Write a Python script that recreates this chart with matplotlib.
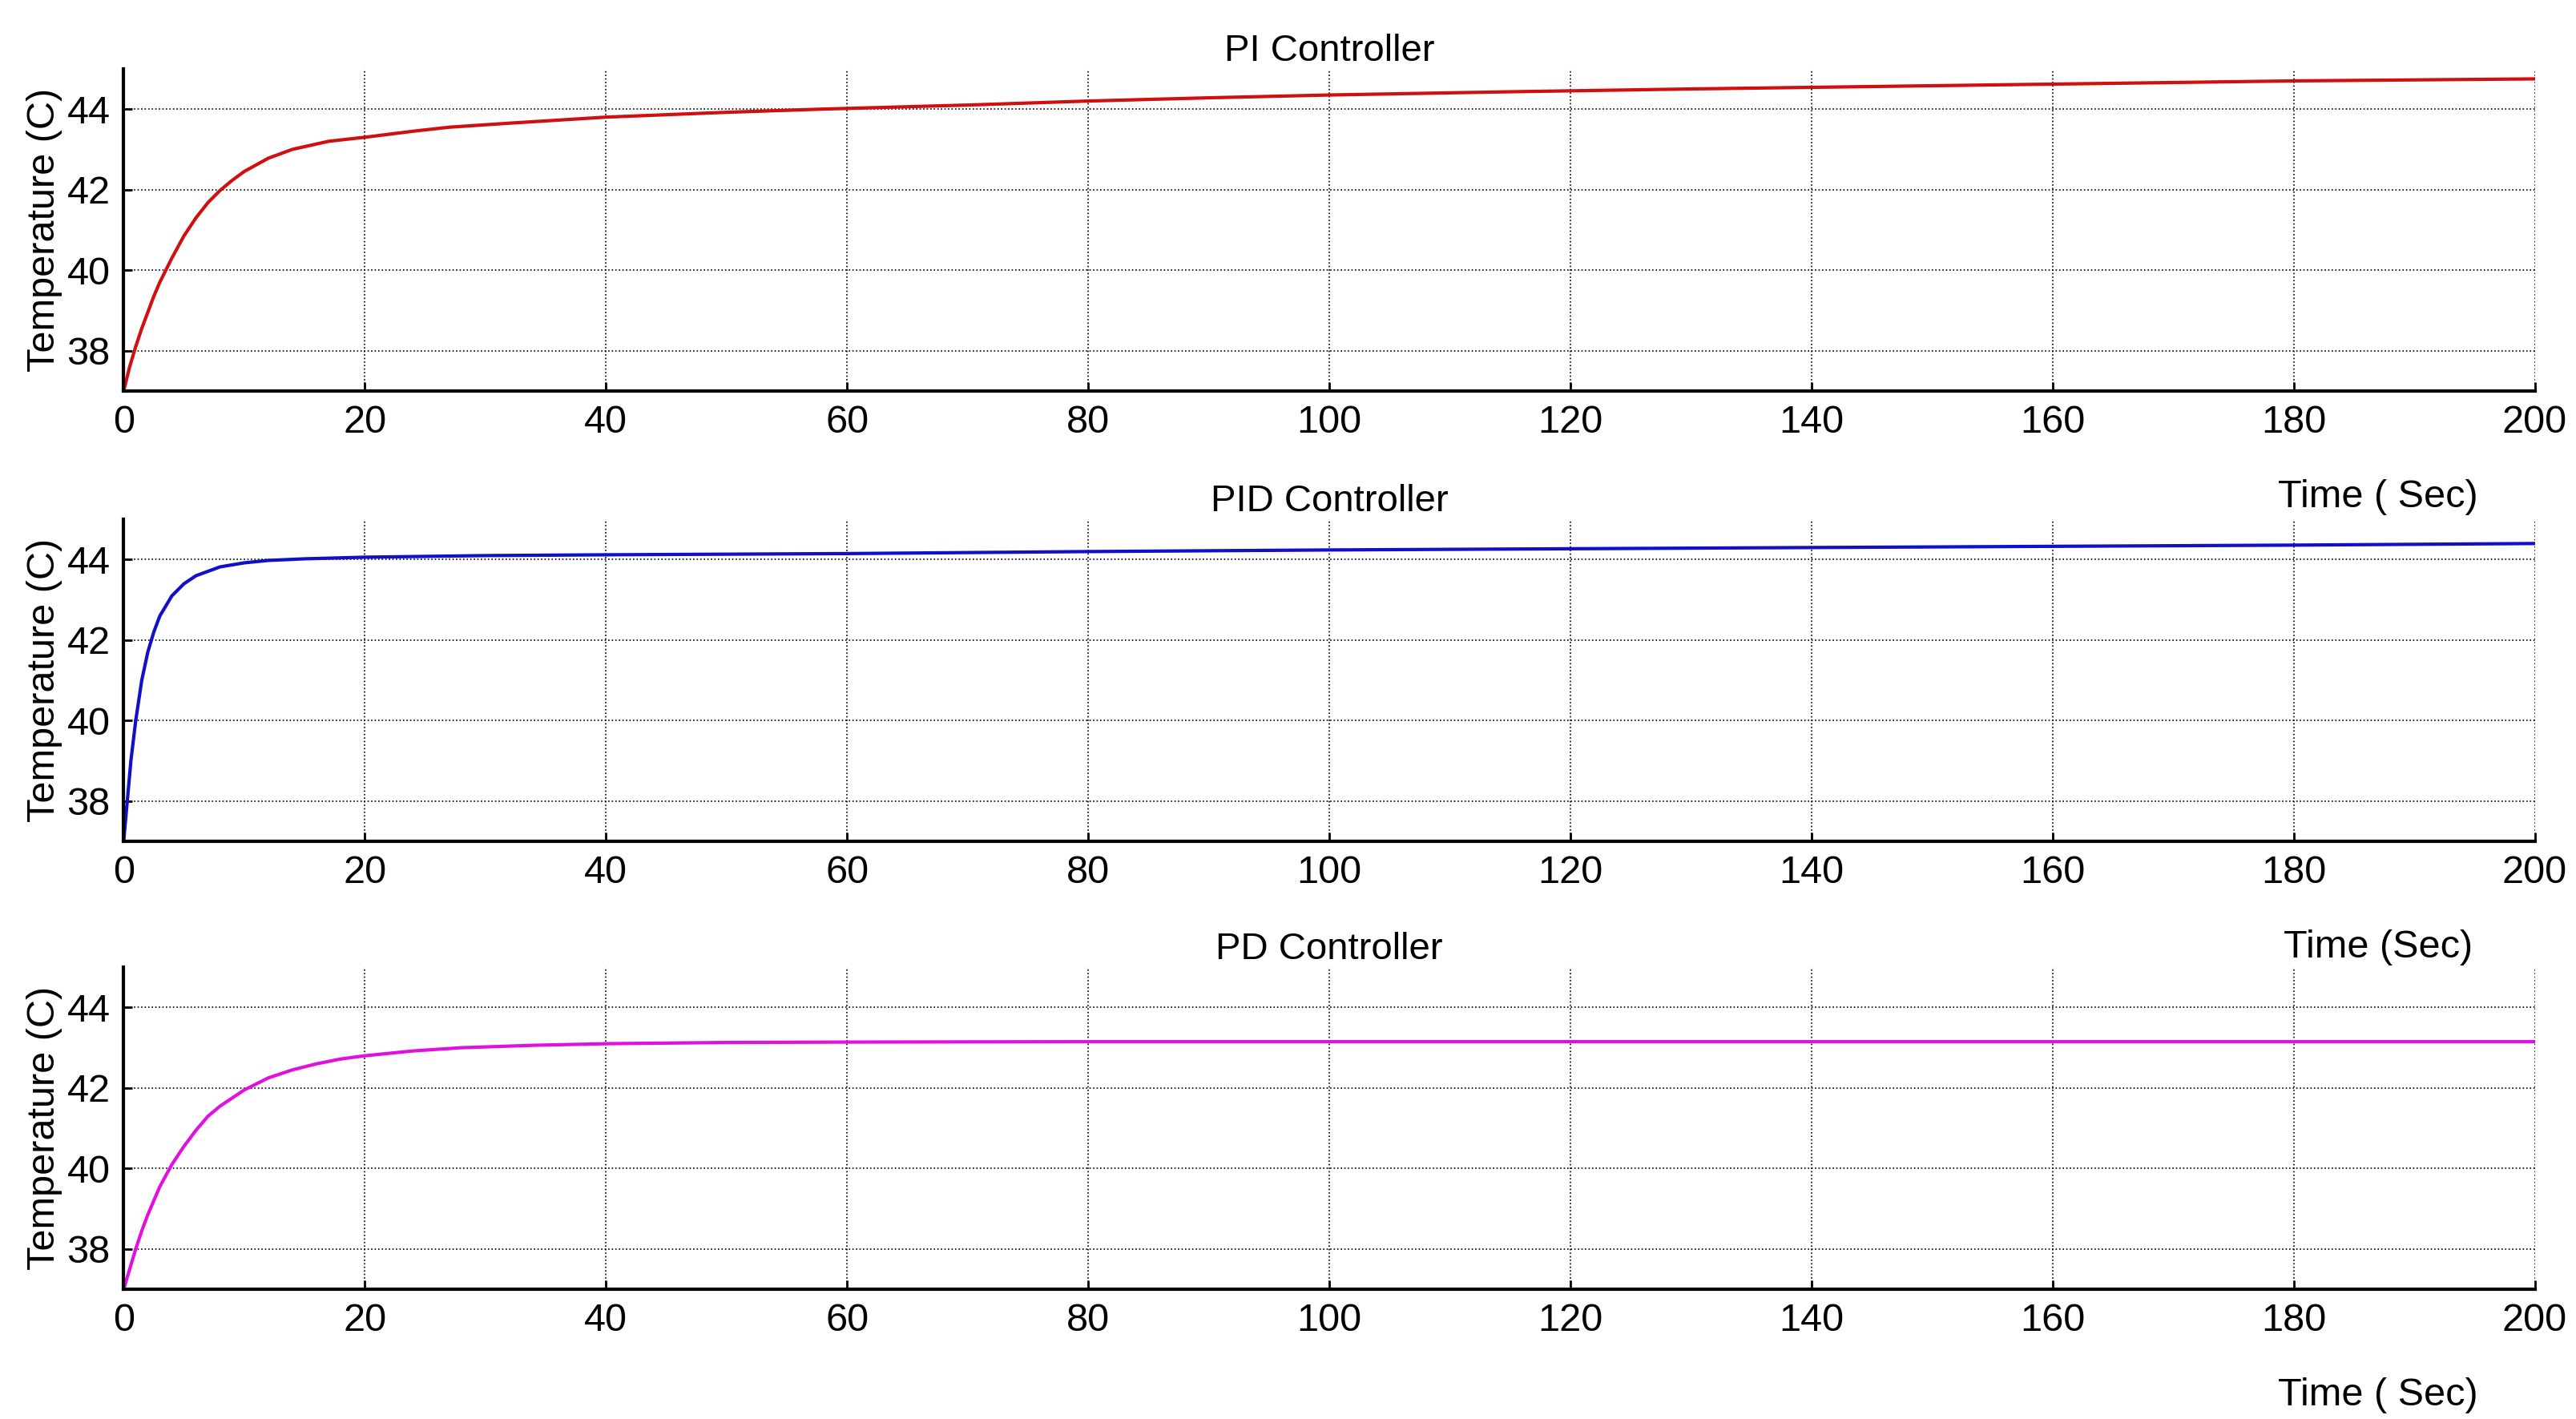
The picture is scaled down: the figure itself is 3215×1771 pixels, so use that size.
import matplotlib
matplotlib.use("Agg")
import matplotlib.pyplot as plt

plt.rcParams['font.family'] = ['Liberation Sans', 'DejaVu Sans']

pi_t = [0, 0.5, 1, 1.5, 2, 2.5, 3, 3.5, 4, 5, 6, 7, 8, 9, 10, 12, 14, 17, 20, 24, 27, 32, 40, 50, 58, 70, 80, 90, 100, 115, 130, 145, 160, 180, 200]
pi_y = [37.0, 37.6, 38.1, 38.55, 38.95, 39.35, 39.7, 40.0, 40.3, 40.85, 41.3, 41.68, 41.98, 42.23, 42.45, 42.78, 43.0, 43.2, 43.3, 43.45, 43.55, 43.65, 43.8, 43.92, 44.0, 44.1, 44.2, 44.28, 44.35, 44.43, 44.5, 44.56, 44.62, 44.7, 44.75]

pid_t = [0, 0.3, 0.6, 1, 1.5, 2, 2.5, 3, 4, 5, 6, 8, 10, 12, 15, 20, 30, 40, 60, 80, 100, 120, 140, 160, 180, 200]
pid_y = [37.0, 38.0, 39.0, 40.0, 41.0, 41.7, 42.2, 42.6, 43.1, 43.4, 43.6, 43.82, 43.92, 43.98, 44.02, 44.06, 44.1, 44.12, 44.15, 44.2, 44.24, 44.27, 44.3, 44.33, 44.36, 44.4]

pd_t = [0, 0.5, 1, 1.5, 2, 3, 4, 5, 6, 7, 8, 10, 12, 14, 16, 18, 20, 24, 28, 34, 40, 50, 60, 80, 100, 150, 200]
pd_y = [37.0, 37.5, 38.0, 38.45, 38.85, 39.55, 40.1, 40.55, 40.95, 41.3, 41.55, 41.95, 42.25, 42.45, 42.6, 42.72, 42.8, 42.92, 43.0, 43.06, 43.1, 43.13, 43.14, 43.15, 43.15, 43.15, 43.15]

titles = ["PI Controller", "PID Controller", "PD Controller"]
xlabels = ["Time ( Sec)", "Time (Sec)", "Time ( Sec)"]
colors = ["#d01010", "#1010c8", "#e010e0"]
series = [(pi_t, pi_y), (pid_t, pid_y), (pd_t, pd_y)]

fig = plt.figure(figsize=(32.15, 17.71), dpi=100)
bottoms = [0.7245, 0.407, 0.0914]
h = 0.227
for i in range(3):
    ax = fig.add_axes([0.048, bottoms[i], 0.936, h])
    t, y = series[i]
    ax.plot(t, y, color=colors[i], lw=3)
    ax.set_xlim(0, 200)
    ax.set_ylim(37, 45)
    ax.set_xticks(range(0, 201, 20))
    ax.set_yticks([38, 40, 42, 44])
    ax.grid(True, color="black", linestyle=":", lw=1.2)
    for s in ["top", "right"]:
        ax.spines[s].set_visible(False)
    for s in ["left", "bottom"]:
        ax.spines[s].set_linewidth(3)
    ax.tick_params(labelsize=35, width=2, length=8, direction="in", pad=12)
    ax.set_title(titles[i], fontsize=34, pad=2)
    ax.set_ylabel("Temperature (C)", fontsize=35, labelpad=4)
    ax.text(0.935, -0.33, xlabels[i], transform=ax.transAxes, fontsize=35, ha="center", va="center")

fig.savefig("out.png", dpi=100)
